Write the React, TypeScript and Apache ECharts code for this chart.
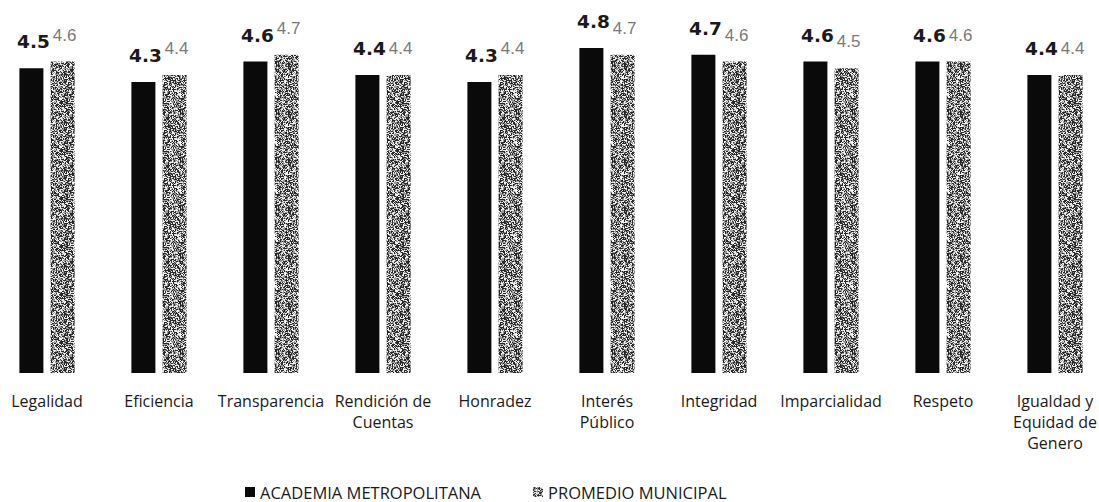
import React, { useEffect, useRef } from "react";
import * as echarts from "echarts";

const categories = [
  "Legalidad",
  "Eficiencia",
  "Transparencia",
  "Rendición de\nCuentas",
  "Honradez",
  "Interés\nPúblico",
  "Integridad",
  "Imparcialidad",
  "Respeto",
  "Igualdad y\nEquidad de\nGenero",
];

const academiaValues = [4.5, 4.3, 4.6, 4.4, 4.3, 4.8, 4.7, 4.6, 4.6, 4.4];
const promedioValues = [4.6, 4.4, 4.7, 4.4, 4.4, 4.7, 4.6, 4.5, 4.6, 4.4];

const seriesNames = ["ACADEMIA METROPOLITANA", "PROMEDIO MUNICIPAL"];

function makeNoisePattern(): HTMLCanvasElement {
  const size = 48;
  const c = document.createElement("canvas");
  c.width = size;
  c.height = size;
  const ctx = c.getContext("2d")!;
  const img = ctx.createImageData(size, size);
  let s = 12345;
  const next = () => {
    s = (s * 1103515245 + 12345) & 0x7fffffff;
    return s / 0x7fffffff;
  };
  for (let i = 0; i < size * size; i++) {
    const r = next();
    let v: number;
    if (r < 0.4) v = 40;
    else if (r < 0.7) v = 150;
    else v = 240;
    img.data[i * 4] = v;
    img.data[i * 4 + 1] = v;
    img.data[i * 4 + 2] = v;
    img.data[i * 4 + 3] = 255;
  }
  ctx.putImageData(img, 0, 0);
  return c;
}

const SHIFT = 9;

export default function App() {
  const ref = useRef<HTMLDivElement>(null);

  useEffect(() => {
    if (!ref.current) return;
    const chart = echarts.init(ref.current, null, { renderer: "svg" });
    const pattern = makeNoisePattern();
    const greyFill: any = {
      image: pattern,
      repeat: "repeat",
      imageWidth: 48,
      imageHeight: 48,
    };

    chart.setOption({
      animation: false,
      backgroundColor: "#ffffff",
      legend: {
        left: 240 + SHIFT,
        top: 478,
        itemWidth: 10,
        itemHeight: 10,
        itemGap: 52,
        icon: "rect",
        textStyle: {
          fontFamily: "Open Sans",
          fontSize: 16.5,
          lineHeight: 18,
          color: "#1a1a1a",
        },
        data: seriesNames,
      },
      grid: {
        left: 0,
        right: 0,
        top: 34.5,
        bottom: 129,
        containLabel: false,
      },
      xAxis: {
        type: "category",
        data: categories,
        axisLine: { show: false },
        axisTick: { show: false },
        axisLabel: {
          interval: 0,
          margin: 17,
          fontFamily: "Open Sans",
          fontSize: 16,
          lineHeight: 21,
          color: "#1a1a1a",
        },
      },
      yAxis: {
        type: "value",
        min: 0,
        max: 5,
        show: false,
        splitLine: { show: false },
      },
      series: [
        {
          name: seriesNames[0],
          type: "bar",
          data: academiaValues,
          barWidth: 24,
          barGap: "30%",
          itemStyle: { color: "#0a0a0a" },
          label: {
            show: true,
            position: "top",
            distance: 17,
            offset: [2, 0],
            formatter: (p: any) => Number(p.value).toFixed(1),
            fontFamily: "DejaVu Sans",
            fontWeight: "bold",
            fontSize: 18.5,
            color: "#1a1a1a",
          },
        },
        {
          name: seriesNames[1],
          type: "bar",
          data: promedioValues,
          barWidth: 24,
          itemStyle: { color: greyFill },
          label: {
            show: true,
            position: "top",
            distance: 18,
            offset: [2, 0],
            formatter: (p: any) => Number(p.value).toFixed(1),
            fontFamily: "Liberation Sans",
            fontSize: 17,
            color: "#7a7a7a",
          },
        },
      ],
    });

    return () => {
      chart.dispose();
    };
  }, []);

  return (
    <div
      style={{
        position: "absolute",
        left: 0,
        top: 0,
        width: 1099,
        height: 502,
        overflow: "hidden",
        background: "#ffffff",
      }}
    >
      <div
        ref={ref}
        style={{
          position: "absolute",
          left: -SHIFT,
          top: 0,
          width: 1120,
          height: 502,
        }}
      />
    </div>
  );
}
